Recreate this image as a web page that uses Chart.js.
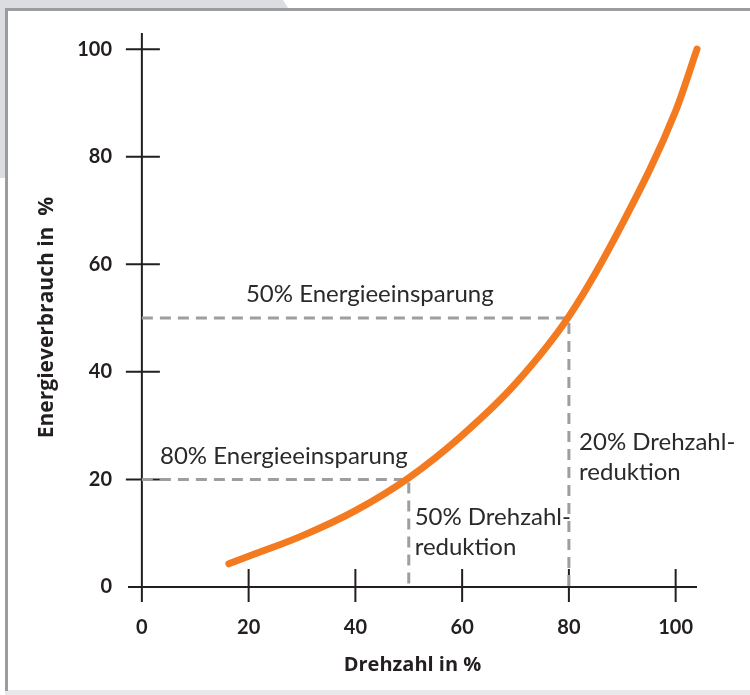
<!DOCTYPE html>
<html>
<head>
<meta charset="utf-8">
<script src="https://cdn.jsdelivr.net/npm/chart.js@4.4.1/dist/chart.umd.min.js"></script>
<style>
  body { margin: 0; background: #fff; }
  #wrap { width: 750px; height: 695px; }
</style>
</head>
<body>
<div id="wrap"><canvas id="energyChart"></canvas></div>
<script>
// Drehzahl (x) vs Energieverbrauch (y)
const speed  = [16.3, 20, 30, 40, 50, 60, 70, 80, 90, 100, 104];
const energy = [4.3, 5.7, 9.5, 14.2, 20.3, 28.2, 37.8, 50.3, 67.5, 88.5, 100];

// guide lines for the two savings examples
const guide50x = [0, 80, 80];
const guide50y = [50, 50, 0];
const guide80x = [0, 50, 50];
const guide80y = [20, 20, 0];

const xTicks = [0, 20, 40, 60, 80, 100];
const yTicks = [0, 20, 40, 60, 80, 100];

const notes = [
  { lines: ['50% Energieeinsparung'], x: 42.7, y: 53, align: 'center' },
  { lines: ['80% Energieeinsparung'], x: 3.4, y: 22.9, align: 'left' },
  { lines: ['50% Drehzahl-', 'reduktion'], x: 51.1, y: 11.5, align: 'left' },
  { lines: ['20% Drehzahl-', 'reduktion'], x: 81.9, y: 25.5, align: 'left' }
];

const ORANGE = '#f47a20';
const GUIDE = '#9d9ea2';
const INK = '#231f20';

function toPoints(xs, ys) {
  return xs.map((x, i) => ({ x: x, y: ys[i] }));
}

// grey frame behind the chart
const framePlugin = {
  id: 'frame',
  beforeDraw(chart) {
    const c = chart.ctx;
    const w = chart.width, h = chart.height;
    c.save();
    c.fillStyle = '#fff';
    c.fillRect(0, 0, w, h);
    c.fillStyle = '#dcdde0';
    c.beginPath();
    c.moveTo(0, 0); c.lineTo(283, 0); c.lineTo(290, 11); c.lineTo(0, 11);
    c.fill();
    c.fillRect(0, 0, 6, 178);
    c.fillStyle = '#e9e9eb';
    c.fillRect(5, 690, w, 5);
    c.fillStyle = '#9b9ca0';
    c.fillRect(5, 8, w, 3);
    c.fillRect(5, 8, 3, 683);
    c.restore();
  }
};

// axes crossing at 0 with cross-shaped ticks, plus the text notes
const axesPlugin = {
  id: 'crossAxes',
  beforeDatasetsDraw(chart) {
    const c = chart.ctx;
    const xs = chart.scales.x, ys = chart.scales.y;
    const area = chart.chartArea;
    const x0 = xs.getPixelForValue(0), y0 = ys.getPixelForValue(0);
    c.save();
    c.strokeStyle = INK;
    c.lineWidth = 2;
    c.beginPath();
    c.moveTo(area.left, y0); c.lineTo(area.right, y0);
    c.moveTo(x0, area.top); c.lineTo(x0, area.bottom);
    xTicks.forEach(v => {
      if (v === 0) return;
      const px = xs.getPixelForValue(v);
      c.moveTo(px, y0 - 18); c.lineTo(px, y0 + 15);
    });
    yTicks.forEach(v => {
      if (v === 0) return;
      const py = ys.getPixelForValue(v);
      c.moveTo(x0 - 16, py); c.lineTo(x0 + 18, py);
    });
    c.stroke();
    c.restore();
  },
  afterDatasetsDraw(chart) {
    const c = chart.ctx;
    const xs = chart.scales.x, ys = chart.scales.y;
    c.save();
    c.fillStyle = '#2b2a2b';
    c.font = '24px Lato';
    c.textBaseline = 'alphabetic';
    notes.forEach(n => {
      c.textAlign = n.align;
      const px = xs.getPixelForValue(n.x);
      const py = ys.getPixelForValue(n.y);
      n.lines.forEach((t, i) => c.fillText(t, px, py + i * 30));
    });
    c.restore();
  }
};

new Chart(document.getElementById('energyChart'), {
  type: 'line',
  data: {
    datasets: [
      {
        data: toPoints(speed, energy),
        borderColor: ORANGE,
        borderWidth: 7,
        borderCapStyle: 'round',
        cubicInterpolationMode: 'monotone',
        pointRadius: 0,
        clip: false
      },
      {
        data: toPoints(guide50x, guide50y),
        borderColor: GUIDE,
        borderWidth: 3,
        borderDash: [11, 7],
        pointRadius: 0,
        tension: 0
      },
      {
        data: toPoints(guide80x, guide80y),
        borderColor: GUIDE,
        borderWidth: 3,
        borderDash: [11, 7],
        pointRadius: 0,
        tension: 0
      }
    ]
  },
  options: {
    responsive: true,
    maintainAspectRatio: false,
    animation: false,
    devicePixelRatio: 1,
    layout: { padding: { top: 33, right: 53, left: 0, bottom: 0 } },
    plugins: { legend: { display: false }, tooltip: { enabled: false } },
    scales: {
      x: {
        type: 'linear',
        min: -2.6,
        max: 104,
        grid: { display: false, drawTicks: false },
        border: { display: false },
        afterBuildTicks: s => { s.ticks = xTicks.map(v => ({ value: v })); },
        afterFit: s => { s.height = 93; },
        ticks: {
          padding: 14,
          color: INK,
          font: { family: 'Lato', size: 20, weight: 'bold' },
          maxRotation: 0
        },
        title: {
          display: true,
          text: 'Drehzahl in %',
          color: INK,
          font: { family: 'Open Sans', size: 20, weight: 'bold' },
          padding: { top: 0, bottom: 18 }
        }
      },
      y: {
        type: 'linear',
        min: -2.8,
        max: 103,
        grid: { display: false, drawTicks: false },
        border: { display: false },
        afterBuildTicks: s => { s.ticks = yTicks.map(v => ({ value: v })); },
        afterFit: s => { s.width = 128; },
        ticks: {
          padding: 16,
          color: INK,
          font: { family: 'Lato', size: 20, weight: 'bold' }
        },
        title: {
          display: true,
          text: 'Energieverbrauch in  %',
          color: INK,
          font: { family: 'Open Sans', size: 21, weight: 'bold' },
          padding: { top: 34, bottom: 0 }
        }
      }
    }
  },
  plugins: [framePlugin, axesPlugin]
});
</script>
</body>
</html>
